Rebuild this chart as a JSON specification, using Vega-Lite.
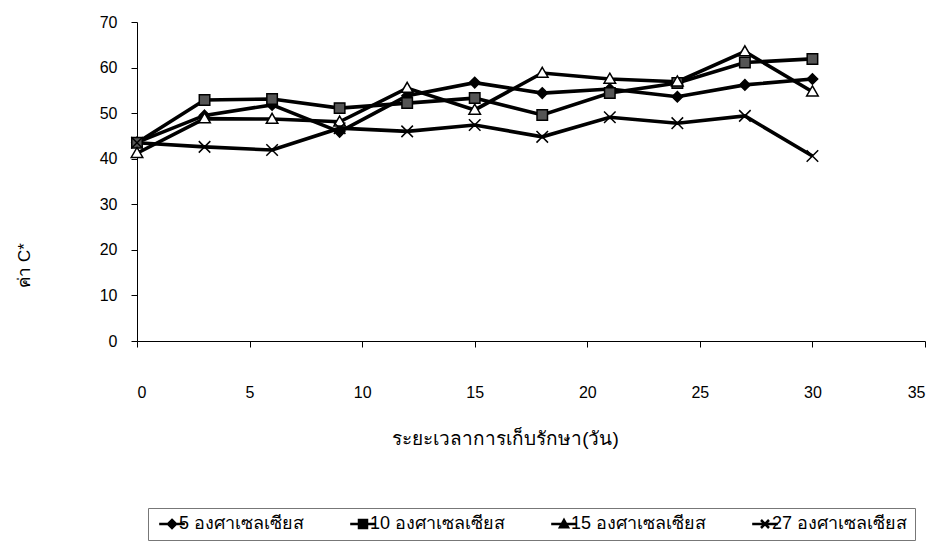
{
  "$schema": "https://vega.github.io/schema/vega-lite/v6.json",
  "autosize": "none",
  "width": 788,
  "height": 319,
  "padding": {"left": 137, "top": 22, "right": 13, "bottom": 215},
  "background": "white",
  "config": {"view": {"stroke": null}, "font": "Liberation Sans, Noto Sans, DejaVu Sans, sans-serif"},
  "data": {"values": [
    {"day": 0, "temp": "5 องศาเซลเซียส", "c": 43.6},
    {"day": 3, "temp": "5 องศาเซลเซียส", "c": 49.5},
    {"day": 6, "temp": "5 องศาเซลเซียส", "c": 51.8},
    {"day": 9, "temp": "5 องศาเซลเซียส", "c": 45.9},
    {"day": 12, "temp": "5 องศาเซลเซียส", "c": 53.8},
    {"day": 15, "temp": "5 องศาเซลเซียส", "c": 56.7},
    {"day": 18, "temp": "5 องศาเซลเซียส", "c": 54.4},
    {"day": 21, "temp": "5 องศาเซลเซียส", "c": 55.3},
    {"day": 24, "temp": "5 องศาเซลเซียส", "c": 53.6},
    {"day": 27, "temp": "5 องศาเซลเซียส", "c": 56.2},
    {"day": 30, "temp": "5 องศาเซลเซียส", "c": 57.5},
    {"day": 0, "temp": "10 องศาเซลเซียส", "c": 43.5},
    {"day": 3, "temp": "10 องศาเซลเซียส", "c": 52.9},
    {"day": 6, "temp": "10 องศาเซลเซียส", "c": 53.1},
    {"day": 9, "temp": "10 องศาเซลเซียส", "c": 51.1},
    {"day": 12, "temp": "10 องศาเซลเซียส", "c": 52.2},
    {"day": 15, "temp": "10 องศาเซลเซียส", "c": 53.3},
    {"day": 18, "temp": "10 องศาเซลเซียส", "c": 49.6},
    {"day": 21, "temp": "10 องศาเซลเซียส", "c": 54.4},
    {"day": 24, "temp": "10 องศาเซลเซียส", "c": 56.6},
    {"day": 27, "temp": "10 องศาเซลเซียส", "c": 61.1},
    {"day": 30, "temp": "10 องศาเซลเซียส", "c": 61.9},
    {"day": 0, "temp": "15 องศาเซลเซียส", "c": 41.2},
    {"day": 3, "temp": "15 องศาเซลเซียส", "c": 48.8},
    {"day": 6, "temp": "15 องศาเซลเซียส", "c": 48.7},
    {"day": 9, "temp": "15 องศาเซลเซียส", "c": 48.1},
    {"day": 12, "temp": "15 องศาเซลเซียส", "c": 55.5},
    {"day": 15, "temp": "15 องศาเซลเซียส", "c": 50.7},
    {"day": 18, "temp": "15 องศาเซลเซียส", "c": 58.8},
    {"day": 21, "temp": "15 องศาเซลเซียส", "c": 57.5},
    {"day": 24, "temp": "15 องศาเซลเซียส", "c": 56.9},
    {"day": 27, "temp": "15 องศาเซลเซียส", "c": 63.5},
    {"day": 30, "temp": "15 องศาเซลเซียส", "c": 54.7},
    {"day": 0, "temp": "27 องศาเซลเซียส", "c": 43.5},
    {"day": 3, "temp": "27 องศาเซลเซียส", "c": 42.6},
    {"day": 6, "temp": "27 องศาเซลเซียส", "c": 41.9},
    {"day": 9, "temp": "27 องศาเซลเซียส", "c": 46.7},
    {"day": 12, "temp": "27 องศาเซลเซียส", "c": 46.0},
    {"day": 15, "temp": "27 องศาเซลเซียส", "c": 47.4},
    {"day": 18, "temp": "27 องศาเซลเซียส", "c": 44.8},
    {"day": 21, "temp": "27 องศาเซลเซียส", "c": 49.1},
    {"day": 24, "temp": "27 องศาเซลเซียส", "c": 47.8},
    {"day": 27, "temp": "27 องศาเซลเซียส", "c": 49.4},
    {"day": 30, "temp": "27 องศาเซลเซียส", "c": 40.6}
  ]},
  "encoding": {
    "x": {
      "field": "day", "type": "quantitative",
      "scale": {"domain": [0, 35], "nice": false, "zero": false},
      "axis": {
        "values": [0, 5, 10, 15, 20, 25, 30, 35],
        "grid": false, "domainColor": "black", "tickColor": "black", "tickSize": 6,
        "labelPadding": 37, "labelFontSize": 16, "labelColor": "black",
        "title": "ระยะเวลาการเก็บรักษา(วัน)", "titleFontSize": 19, "titleFontWeight": "normal",
        "titleColor": "black", "titleX": 368, "titleY": 97, "titleBaseline": "middle", "titleAlign": "center"
      }
    },
    "y": {
      "field": "c", "type": "quantitative",
      "scale": {"domain": [0, 70], "nice": false},
      "axis": {
        "values": [0, 10, 20, 30, 40, 50, 60, 70],
        "grid": false, "domainColor": "black", "tickColor": "black", "tickSize": 6,
        "labelPadding": 14, "labelFontSize": 16, "labelColor": "black",
        "title": "ค่า C*", "titleFontSize": 17, "titleFontWeight": "normal", "titleColor": "black",
        "titleAngle": 270, "titleX": -113, "titleY": 243, "titleAlign": "center", "titleBaseline": "middle"
      }
    }
  },
  "resolve": {"scale": {"shape": "independent"}, "legend": {"shape": "independent"}},
  "layer": [
    {
      "mark": {"type": "line", "strokeWidth": 3.6, "color": "black"},
      "encoding": {"detail": {"field": "temp"}}
    },
    {
      "mark": {"type": "point", "filled": true, "opacity": 1, "stroke": "black", "strokeWidth": 1.5, "size": 110},
      "encoding": {
        "shape": {
          "field": "temp", "type": "nominal",
          "scale": {
            "domain": ["5 องศาเซลเซียส", "10 องศาเซลเซียส", "15 องศาเซลเซียส", "27 องศาเซลเซียส"],
            "range": ["M0,-1L1,0L0,1L-1,0Z", "M-1,-1H1V1H-1Z", "M0,-1.1L1.1,0.8H-1.1Z", "M-1.1,-1.1L1.1,1.1M-1.1,1.1L1.1,-1.1"]
          },
          "legend": null
        },
        "fill": {
          "field": "temp", "type": "nominal",
          "scale": {
            "domain": ["5 องศาเซลเซียส", "10 องศาเซลเซียส", "15 องศาเซลเซียส", "27 องศาเซลเซียส"],
            "range": ["black", "#555", "white", "black"]
          },
          "legend": null
        }
      }
    },
    {
      "mark": {"type": "point", "filled": false, "opacity": 0, "stroke": "black", "strokeWidth": 2.5, "size": 64},
      "encoding": {
        "shape": {
          "field": "temp", "type": "nominal",
          "scale": {
            "domain": ["5 องศาเซลเซียส", "10 องศาเซลเซียส", "15 องศาเซลเซียส", "27 องศาเซลเซียส"],
            "range": ["M-3.2,0H3.2M0,-1L1,0L0,1L-1,0Z", "M-3.2,0H3.2M-1,-1H1V1H-1Z", "M-3.2,0H3.2M0,-1L1,0.8H-1Z", "M-3.2,0H3.2M-1,-1L1,1M-1,1L1,-1"]
          },
          "legend": {
            "title": null, "orient": "none", "legendX": 11, "legendY": 486,
            "direction": "horizontal", "columns": 4, "columnPadding": 40,
            "padding": 7, "strokeColor": "#777",
            "labelFontSize": 18, "labelColor": "black", "labelLimit": 300,
            "symbolSize": 64, "symbolStrokeWidth": 2.5, "symbolOpacity": 1,
            "symbolOffset": 8, "labelOffset": -2
          }
        },
        "fill": {
          "field": "temp", "type": "nominal",
          "legend": {
            "title": null, "orient": "none", "legendX": 11, "legendY": 486,
            "direction": "horizontal", "columns": 4, "columnPadding": 40,
            "padding": 7, "strokeColor": "#777",
            "labelFontSize": 18, "labelColor": "black", "labelLimit": 300,
            "symbolSize": 64, "symbolStrokeWidth": 2.5, "symbolOpacity": 1,
            "symbolOffset": 8, "labelOffset": -2
          }
        }
      }
    }
  ]
}
